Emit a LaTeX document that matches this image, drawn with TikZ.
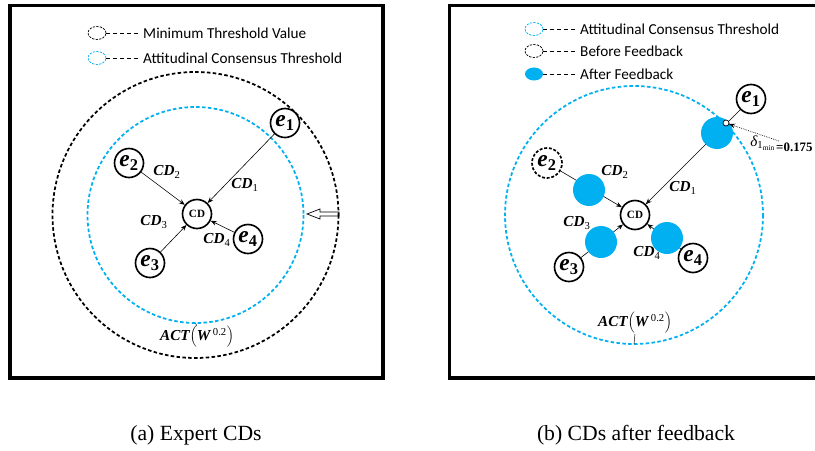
\documentclass[tikz,border=0pt]{standalone}
\usepackage{fontspec}
\setmainfont{Liberation Serif}
\newfontfamily\legendfont{Carlito}
\usetikzlibrary{shapes.geometric,arrows.meta}

\definecolor{actblue}{RGB}{0,176,240}

\newcommand{\elab}[1]{{\bfseries\itshape e}\textsubscript{\bfseries #1}}
\newcommand{\cdl}[1]{{\bfseries\itshape CD}\textsubscript{#1}}
\newcommand{\actlab}{{\bfseries\itshape ACT}$\Bigl($\textbf{\textit{W}}\textsuperscript{\,0.2}$\Bigr)$}

\tikzset{
  expert/.style={circle,draw,line width=1.4pt,fill=white,minimum size=0.87cm,inner sep=0pt,
    font=\fontsize{20}{20}\selectfont},
  before/.style={expert,dash pattern=on 2.5pt off 1.5pt,minimum size=0.9cm},
  centre/.style={circle,draw,line width=1.4pt,fill=white,minimum size=0.87cm,inner sep=0pt,
    font=\fontsize{9.5}{9.5}\selectfont\bfseries},
  moved/.style={circle,fill=actblue,minimum size=0.96cm,inner sep=0pt},
  legmark/.style={ellipse,draw,dash pattern=on 2pt off 1pt,line width=0.6pt,
    minimum width=0.54cm,minimum height=0.39cm,inner sep=0pt},
  legtext/.style={anchor=west,inner sep=0pt,font=\legendfont\fontsize{13}{13}\selectfont},
  legline/.style={dashed,line width=0.6pt,shorten >=3pt},
  cdtext/.style={inner sep=0pt,font=\fontsize{13}{13}\selectfont},
  infl/.style={-{Stealth[length=5pt,width=4pt]},line width=0.5pt},
  thr/.style={dash pattern=on 3pt off 2pt,line width=1.5pt},
  panel/.style={line width=2.6pt},
  caption/.style={font=\fontsize{18.5}{18.5}\selectfont}
}

\begin{document}
\begin{tikzpicture}[x=0.03cm,y=-0.03cm]
\useasboundingbox (0,0) rectangle (815,451);
\clip (0,0) rectangle (815,451);

% ---- (a) expert CDs ----
\draw[panel] (10,5.5) rectangle (383,378);

\node[legmark] (mk1) at (97,33) {};
\node[legtext] (lg1) at (143,33) {Minimum Threshold Value};
\draw[legline] (mk1) -- (lg1);
\node[legmark,draw=actblue] (mk2) at (97,58) {};
\node[legtext] (lg2) at (143,58) {Attitudinal Consensus Threshold};
\draw[legline] (mk2) -- (lg2);

\draw[thr] (195.5,215) circle[radius=143];
\draw[thr,actblue] (195.5,215) circle[radius=108];

\node[expert] (e1) at (285,123) {\elab{1}};
\node[expert] (e2) at (129,163) {\elab{2}};
\node[expert] (e3) at (150,263) {\elab{3}};
\node[expert] (e4) at (248,239) {\elab{4}};
\node[centre] (cd) at (197,214) {CD};

\draw[infl] (e1) -- (cd);
\draw[infl] (e2) -- (cd);
\draw[infl] (e3) -- (cd);
\draw[infl] (e4) -- (cd);

\node[cdtext] (l1) at (245,185) {\cdl{1}};
\node[cdtext] (l2) at (167,172) {\cdl{2}};
\node[cdtext] (l3) at (154,222) {\cdl{3}};
\node[cdtext] (l4) at (217,240) {\cdl{4}};

% hollow arrow between the two thresholds
\draw[line width=0.6pt] (339,212) -- (320,212) -- (320,209) -- (307,214)
  -- (320,219) -- (320,216) -- (339,216) -- cycle;

\node[cdtext] (actA) at (197,337) {\actlab};
\coordinate (lowA) at (195.5,323);
\draw[line width=0.4pt] (lowA) -- (actA.north);

\node[caption] (capA) at (196,435) {(a) Expert CDs};

% ---- (b) CDs after feedback ----
\draw[panel] (449.5,5.5) rectangle (830,378);

\node[legmark,draw=actblue] (mk3) at (534,29) {};
\node[legtext] (lg3) at (580,29) {Attitudinal Consensus Threshold};
\draw[legline] (mk3) -- (lg3);
\node[legmark] (mk4) at (534,51) {};
\node[legtext] (lg4) at (580,51) {Before Feedback};
\draw[legline] (mk4) -- (lg4);
\node[legmark,draw=none,fill=actblue] (mk5) at (534,74) {};
\node[legtext] (lg5) at (580,74) {After Feedback};
\draw[legline] (mk5) -- (lg5);

\draw[thr,actblue] (634,215) circle[radius=129];

\node[expert] (f1) at (751,99) {\elab{1}};
\node[before] (f2) at (547,163) {\elab{2}};
\node[expert] (f3) at (569,267) {\elab{3}};
\node[expert] (f4) at (693,258) {\elab{4}};
\node[centre] (cdb) at (635,215) {CD};

\draw[infl] (f1) -- (cdb);
\draw[infl] (f2) -- (cdb);
\draw[infl] (f3) -- (cdb);
\draw[infl] (f4) -- (cdb);

\node[moved] (b1) at (717,133) {};
\node[moved] (b2) at (589,190) {};
\node[moved] (b3) at (601,242) {};
\node[moved] (b4) at (667,238) {};
\node[circle,draw,fill=white,line width=0.6pt,minimum size=0.18cm,inner sep=0pt] (m1) at (726,123) {};

\node[cdtext] (k1) at (683,188) {\cdl{1}};
\node[cdtext] (k2) at (615,172) {\cdl{2}};
\node[cdtext] (k3) at (577,223) {\cdl{3}};
\node[cdtext] (k4) at (647,253) {\cdl{4}};

\node[cdtext] (dmin) at (763,143) {{\itshape δ}\textsubscript{1\textsubscript{min}}};
\node[inner sep=0pt,anchor=west,font=\fontsize{11}{11}\selectfont\bfseries] (dval) at (776,147) {=0.175};
\coordinate (dtail) at (779,141);
\draw[densely dotted,line width=0.6pt,-{Stealth[length=5pt,width=4pt]}] (dtail) -- (m1);

\node[cdtext] (actB) at (635,323) {\actlab};
\coordinate (lowB) at (634,344);
\draw[line width=0.4pt] (actB.south) -- (lowB);

\node[caption] (capB) at (636,435) {(b) CDs after feedback};

\end{tikzpicture}
\end{document}
